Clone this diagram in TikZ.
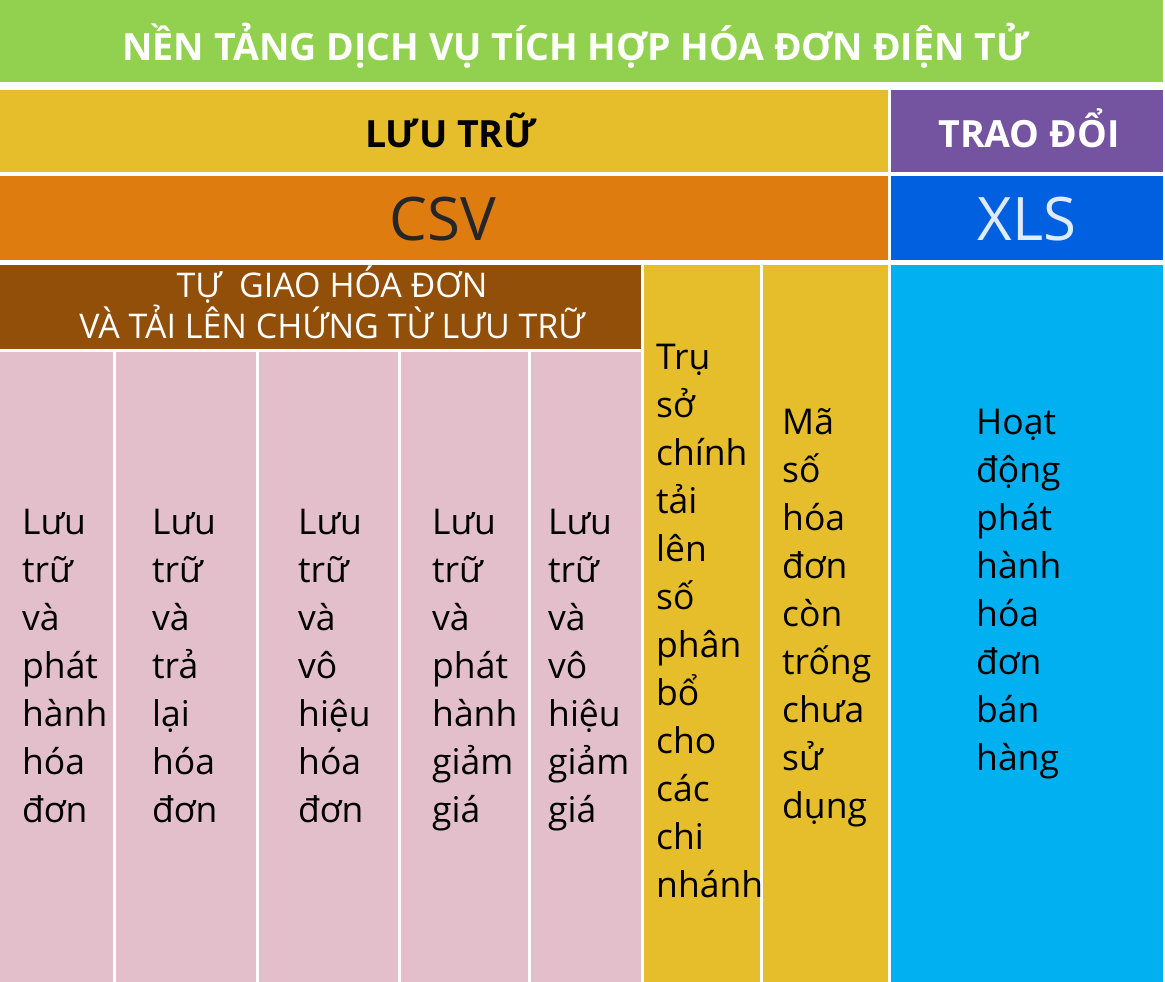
\documentclass[tikz,border=0pt]{standalone}
\usepackage{fontspec}
\setmainfont{Open Sans}
\definecolor{titlegreen}{HTML}{92D050}
\definecolor{storeyellow}{HTML}{E6BE2B}
\definecolor{csvorange}{HTML}{DE7C10}
\definecolor{selfbrown}{HTML}{924F0A}
\definecolor{swappurple}{HTML}{7453A0}
\definecolor{xlsblue}{HTML}{0060DF}
\definecolor{salesblue}{HTML}{00B0F0}
\definecolor{keeppink}{HTML}{E3BFCB}
\definecolor{xlstext}{HTML}{DDEBFA}

\begin{document}
\begin{tikzpicture}[x=1pt,y=-1pt]
\tikzset{head/.style={font=\fontsize{37.5}{48}\selectfont\bfseries, anchor=base, inner sep=0pt},
 big/.style={font=\fontsize{60}{60}\selectfont, anchor=base, inner sep=0pt},
 words/.style={font=\fontsize{35.5}{48}\selectfont, align=left, anchor=base west, inner sep=0pt}}
\useasboundingbox (0,0) rectangle (1165,982);

% bands
\fill[titlegreen] (0,0) rectangle (1163,82);
\fill[storeyellow] (0,90) rectangle (888,172);
\fill[swappurple] (891,90) rectangle (1163,172);
\fill[csvorange] (0,176) rectangle (888,260);
\fill[xlsblue] (891,176) rectangle (1163,260);
\fill[selfbrown] (0,265) rectangle (641,349);

% columns
\foreach \a/\b in {0/113,116/256,259/398,401/528,531/641}
  \fill[keeppink] (\a,352) rectangle (\b,982);
\fill[storeyellow] (644,265) rectangle (760,982);
\fill[storeyellow] (763,265) rectangle (888,982);
\fill[salesblue] (891,265) rectangle (1163,982);

\node[head, white] (title) at (576,61) {NỀN TẢNG DỊCH VỤ TÍCH HỢP HÓA ĐƠN ĐIỆN TỬ};
\node[head] (luutru) at (451,147) {LƯU TRỮ};
\node[head, white] (traodoi) at (1029,147) {TRAO ĐỔI};
\node[big, black!85] (csv) at (443,240) {CSV};
\node[big, xlstext] (xls) at (1027,240) {XLS};
% base of a multi-line node = last line
\node[white, align=center, anchor=base, inner sep=0pt, font=\fontsize{34}{41}\selectfont] (tugiao) at (332,338)
  {TỰ\ \ GIAO HÓA ĐƠN\\VÀ TẢI LÊN CHỨNG TỪ LƯU TRỮ};

\node[words] (hoadon) at (22,822) {Lưu\\trữ\\và\\phát\\hành\\hóa\\đơn};
\node[words] (tralai) at (152,822) {Lưu\\trữ\\và\\trả\\lại\\hóa\\đơn};
\node[words] (vohieu) at (298,822) {Lưu\\trữ\\và\\vô\\hiệu\\hóa\\đơn};
\node[words] (giamgia) at (432,822) {Lưu\\trữ\\và\\phát\\hành\\giảm\\giá};
\node[words] (vogiam) at (548,822) {Lưu\\trữ\\và\\vô\\hiệu\\giảm\\giá};
\node[words] (truso) at (656,897) {Trụ\\sở\\chính\\tải\\lên\\số\\phân\\bổ\\cho\\các\\chi\\nhánh};
\node[words] (maso) at (782,818) {Mã\\số\\hóa\\đơn\\còn\\trống\\chưa\\sử\\dụng};
\node[words] (hoatdong) at (976,770) {Hoạt\\động\\phát\\hành\\hóa\\đơn\\bán\\hàng};
\end{tikzpicture}
\end{document}
